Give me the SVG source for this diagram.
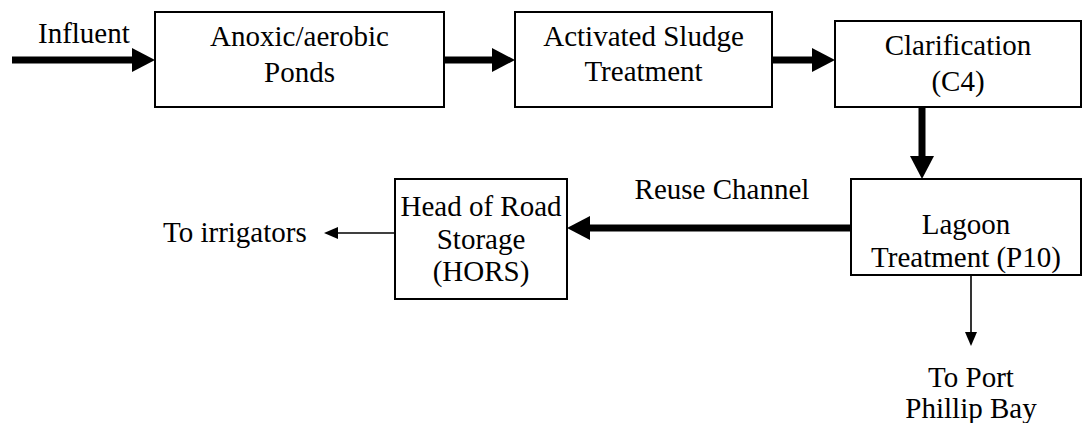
<svg xmlns="http://www.w3.org/2000/svg" width="1084" height="423" viewBox="0 0 1084 423">
<style>
.box{fill:#fff;stroke:#000;stroke-width:2}
text{font-family:"Liberation Serif","Times New Roman",serif;font-size:29px;fill:#000}
.c{text-anchor:middle}
.thick{stroke:#000;stroke-width:7;fill:none}
.thin{stroke:#000;stroke-width:1.6;fill:none}
</style>
<defs>
<marker id="ah" markerUnits="userSpaceOnUse" markerWidth="23" markerHeight="24" refX="4" refY="12" orient="auto">
<path d="M0,0 L23,12 L0,24 z" fill="#000"/>
</marker>
<marker id="ahs" markerUnits="userSpaceOnUse" markerWidth="14" markerHeight="12" refX="2" refY="6" orient="auto">
<path d="M0,0 L14,6 L0,12 z" fill="#000"/>
</marker>
</defs>
<g id="connectors">
<line class="thick" x1="12" y1="60" x2="136" y2="60" marker-end="url(#ah)"/>
<line class="thick" x1="444" y1="60" x2="496" y2="60" marker-end="url(#ah)"/>
<line class="thick" x1="772" y1="60" x2="816" y2="60" marker-end="url(#ah)"/>
<line class="thick" x1="922" y1="107" x2="922" y2="160" marker-end="url(#ah)"/>
<line class="thick" x1="851" y1="228" x2="586" y2="228" marker-end="url(#ah)"/>
<line class="thin" x1="395" y1="233" x2="336" y2="233" marker-end="url(#ahs)"/>
<line class="thin" x1="971" y1="275" x2="971" y2="334" marker-end="url(#ahs)"/>
</g>
<g id="influent"><text x="38" y="43">Influent</text></g>
<g id="anoxic">
<rect class="box" x="155" y="12" width="289" height="95"/>
<text class="c" x="299.5" y="46">Anoxic/aerobic</text>
<text class="c" x="299.5" y="82">Ponds</text>
</g>
<g id="activated">
<rect class="box" x="515" y="12" width="257" height="95"/>
<text class="c" x="643.5" y="46">Activated Sludge</text>
<text class="c" x="643.5" y="81">Treatment</text>
</g>
<g id="clarification">
<rect class="box" x="835" y="21" width="246" height="86"/>
<text class="c" x="958" y="55">Clarification</text>
<text class="c" x="958" y="91">(C4)</text>
</g>
<g id="lagoon">
<rect class="box" x="851" y="179" width="230" height="96"/>
<text class="c" x="966" y="234">Lagoon</text>
<text class="c" x="966" y="267">Treatment (P10)</text>
</g>
<g id="hors">
<rect class="box" x="395" y="179" width="172" height="120"/>
<text class="c" x="481" y="216">Head of Road</text>
<text class="c" x="481" y="249">Storage</text>
<text class="c" x="481" y="281">(HORS)</text>
</g>
<g id="reuse"><text class="c" x="722" y="199">Reuse Channel</text></g>
<g id="irrigators"><text x="163" y="242">To irrigators</text></g>
<g id="port">
<text class="c" x="971" y="387">To Port</text>
<text class="c" x="971" y="418">Phillip Bay</text>
</g>
</svg>
